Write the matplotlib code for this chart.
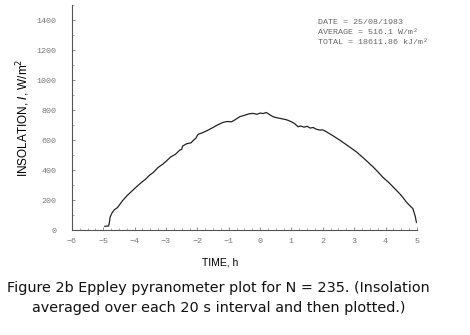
import matplotlib
matplotlib.use("Agg")
import matplotlib.pyplot as plt
from matplotlib.ticker import MultipleLocator

# donnees (heure, W/m2)
temps = [-4.95, -4.90, -4.83, -4.81, -4.78, -4.72, -4.65, -4.55, -4.45, -4.37,
         -4.25, -4.10, -3.94, -3.80, -3.65, -3.52, -3.40, -3.25, -3.10, -2.98,
         -2.85, -2.70, -2.56, -2.50, -2.47, -2.35, -2.20, -2.14, -2.05, -1.98,
         -1.85, -1.70, -1.50, -1.35, -1.18, -1.05, -0.91, -0.80, -0.65, -0.50,
         -0.35, -0.23, -0.10, 0.00, 0.10, 0.20, 0.30, 0.41, 0.55, 0.70,
         0.85, 1.00, 1.10, 1.21, 1.30, 1.40, 1.50, 1.60, 1.69, 1.80,
         1.90, 2.00, 2.11, 2.30, 2.54, 2.80, 3.07, 3.30, 3.60, 3.75,
         3.92, 4.10, 4.34, 4.50, 4.66, 4.75, 4.87, 4.92, 4.95, 4.98, 5.00]
insolation = [25, 27, 28, 45, 88, 115, 135, 150, 178, 200,
              228, 258, 289, 315, 340, 367, 385, 418, 440, 462,
              488, 505, 533, 538, 560, 575, 582, 596, 612, 638,
              648, 662, 684, 702, 718, 724, 722, 735, 756, 765,
              775, 778, 772, 780, 777, 784, 770, 756, 748, 742,
              735, 722, 710, 689, 694, 686, 692, 680, 684, 672,
              667, 668, 656, 632, 600, 562, 522, 480, 422, 390,
              351, 318, 267, 232, 189, 168, 144, 111, 90, 56, 50]

xticks = [-6, -5, -4, -3, -2, -1, 0, 1, 2, 3, 4, 5]
yticks = [0, 200, 400, 600, 800, 1000, 1200, 1400]

fig = plt.figure(figsize=(4.7, 3.35), dpi=100)
ax = fig.add_axes([0.153, 0.313, 0.734, 0.672])

ax.plot(temps, insolation, color="#222222", linewidth=0.9)

ax.set_xlim(-6, 5)
ax.set_ylim(0, 1500)
ax.set_xticks(xticks)
ax.set_yticks(yticks)
ax.yaxis.set_minor_locator(MultipleLocator(100))
ax.xaxis.set_minor_locator(MultipleLocator(0.25))

for s in ["top", "right"]:
    ax.spines[s].set_visible(False)
for s in ["left", "bottom"]:
    ax.spines[s].set_color("#555555")
    ax.spines[s].set_linewidth(0.8)

ax.tick_params(axis="both", which="major", direction="in", length=2.5, width=0.6,
               colors="#777777", labelsize=6, pad=6)
ax.tick_params(axis="both", which="minor", direction="in", length=1.5, width=0.5,
               colors="#888888")
for lab in ax.get_xticklabels() + ax.get_yticklabels():
    lab.set_fontfamily("Liberation Mono")
ax.tick_params(axis="y", pad=11)

ax.set_xlabel("TIME, h", fontsize=7.5, family="Liberation Sans", labelpad=9, x=0.43)
ax.set_ylabel("INSOLATION, $I$, W/m$^2$", fontsize=8.5, family="Liberation Sans", labelpad=3)

# texte de l'encadre
info = ["DATE = 25/08/1983", "AVERAGE = 516.1 W/m\u00b2", "TOTAL = 18611.86 kJ/m\u00b2"]
for i, ligne in enumerate(info):
    fig.text(318 / 470, 1 - (23 + 10 * i) / 335, ligne, fontsize=6, family="Liberation Mono",
             color="#666666", va="center", ha="left")

# legende de la figure
fig.text(0.465, 1 - 288 / 335, "Figure 2b Eppley pyranometer plot for N = 235. (Insolation",
         fontsize=10.4, family="DejaVu Sans", ha="center", va="center", color="#111111")
fig.text(0.465, 1 - 308 / 335, "averaged over each 20 s interval and then plotted.)",
         fontsize=10.4, family="DejaVu Sans", ha="center", va="center", color="#111111")

fig.savefig("out.png", dpi=100)
